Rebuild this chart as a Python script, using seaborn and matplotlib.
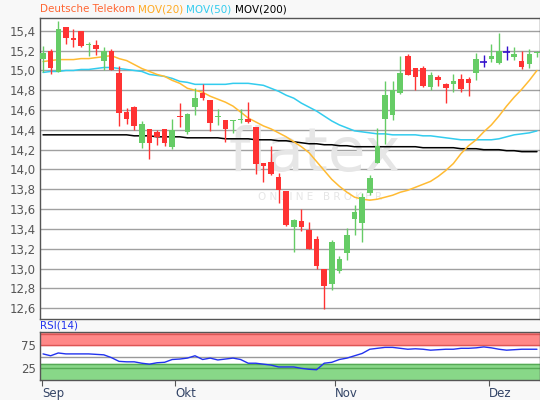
import numpy as np
import pandas as pd
import matplotlib
matplotlib.use("Agg")
import matplotlib.pyplot as plt
import seaborn as sns

opens = [15.12,15.20,14.98,15.44,15.33,15.40,15.26,15.26,15.10,15.20,14.97,14.58,14.63,14.27,14.41,14.38,14.41,14.23,14.54,14.38,
         14.63,14.77,14.70,14.53,14.50,14.49,14.50,14.51,14.43,14.07,14.08,13.92,13.78,13.42,13.48,13.39,13.30,13.00,12.84,12.97,
         13.16,13.50,13.46,13.76,14.07,14.51,14.55,14.77,15.15,15.03,15.02,14.83,14.93,14.86,14.86,14.91,14.91,14.97,15.09,15.12,
         15.08,15.19,15.14,15.10,15.07,15.175]
closes = [15.18,15.02,15.42,15.33,15.31,15.25,15.27,15.22,15.20,15.00,14.57,14.51,14.44,14.46,14.27,14.33,14.27,14.40,14.53,14.56,
          14.72,14.72,14.47,14.54,14.41,14.50,14.51,14.48,14.06,14.04,13.95,13.79,13.44,13.49,13.42,13.20,13.03,12.82,13.27,13.10,
          13.34,13.57,13.72,13.91,14.24,14.75,14.80,14.97,14.95,14.93,14.84,14.95,14.90,14.82,14.89,14.81,14.87,15.12,15.09,15.15,
          15.20,15.19,15.17,15.04,15.17,15.185]
highs = [15.25,15.22,15.50,15.44,15.42,15.40,15.29,15.31,15.24,15.22,15.05,14.62,14.64,14.49,14.41,14.40,14.41,14.51,14.67,14.57,
         14.82,14.86,14.70,14.61,14.50,14.50,14.61,14.68,14.43,14.07,14.24,13.96,13.78,13.50,13.60,13.47,13.33,13.00,13.29,13.13,
         13.41,13.64,13.76,13.94,14.42,14.89,14.89,15.15,15.17,15.03,15.05,14.98,14.95,14.87,14.96,14.96,14.93,15.18,15.16,15.27,
         15.38,15.25,15.24,15.20,15.22,15.20]
lows = [14.98,14.96,14.98,15.27,15.24,15.24,15.15,15.16,15.00,15.00,14.44,14.46,14.40,14.22,14.11,14.25,14.24,14.21,14.43,14.36,
        14.55,14.70,14.39,14.45,14.28,14.37,14.47,14.47,13.95,13.87,13.94,13.66,13.43,13.17,13.38,13.20,13.00,12.59,12.78,12.95,
        13.09,13.34,13.27,13.74,14.07,14.26,14.50,14.76,14.95,14.80,14.83,14.80,14.84,14.67,14.78,14.78,14.74,14.90,15.04,15.09,
        15.07,15.11,15.11,15.01,15.03,15.14]
mov20 = [15.09,15.10,15.11,15.11,15.11,15.12,15.12,15.13,15.14,15.15,15.12,15.10,15.06,15.02,14.99,14.96,14.94,14.90,14.87,14.82,
         14.80,14.78,14.74,14.71,14.68,14.64,14.58,14.52,14.48,14.44,14.41,14.37,14.33,14.28,14.23,14.17,14.08,13.99,13.90,13.83,
         13.77,13.72,13.70,13.69,13.70,13.72,13.74,13.77,13.79,13.82,13.85,13.88,13.93,13.99,14.06,14.16,14.24,14.30,14.38,14.45,
         14.54,14.64,14.73,14.81,14.90,15.00]
mov50 = [14.98,14.99,14.99,15.00,15.00,15.01,15.01,15.02,15.03,15.03,15.02,15.01,15.00,14.99,14.96,14.95,14.94,14.92,14.89,14.88,
         14.86,14.86,14.86,14.86,14.86,14.87,14.87,14.87,14.86,14.85,14.82,14.79,14.75,14.72,14.67,14.63,14.59,14.54,14.49,14.45,
         14.42,14.39,14.38,14.37,14.36,14.36,14.35,14.35,14.35,14.35,14.34,14.34,14.33,14.32,14.31,14.30,14.30,14.30,14.30,14.30,
         14.31,14.33,14.35,14.36,14.37,14.39]
mov200 = [14.35]*12 + [14.34,14.34,14.34,14.33,14.33,14.33,14.33,14.32,14.32,14.32,14.32,14.32,14.31,14.31,14.31,14.31,14.30,14.30,
          14.30,14.29,14.29,14.28,14.27,14.26,14.26,14.25,14.25,14.24,14.24,14.23,14.23,14.23,14.23,14.23,14.23,14.23,14.23,14.23,
          14.22,14.22,14.22,14.22,14.22,14.21,14.21,14.21,14.20,14.20,14.20,14.19,14.19,14.18,14.18,14.18]
rsi = [56,52,58,56,56,56,56,55,54,48,40,39,39,36,34,37,38,44,45,47,52,44,47,43,45,47,44,36,36,34,32,28,28,28,25,23,22,36,38,44,
       47,52,57,66,68,70,70,68,66,67,66,64,65,66,66,68,68,69,71,69,66,64,65,66,66,66]
month_labels = ["Sep", "Okt", "Nov", "Dez"]
month_pos = [-0.1, 17.4, 38.4, 58.7]
yticks = [12.6,12.8,13.0,13.2,13.4,13.6,13.8,14.0,14.2,14.4,14.6,14.8,15.0,15.2,15.4]

df = pd.DataFrame({"i": np.arange(len(opens)), "open": opens, "close": closes, "high": highs,
                   "low": lows, "mov20": mov20, "mov50": mov50, "mov200": mov200, "rsi": rsi})

sns.set_style("white")
plt.rcParams['font.family'] = ['DejaVu Sans']
fig = plt.figure(figsize=(5.4, 4.0), dpi=100, facecolor="#f8f8f8")
ax = fig.add_axes([40/540, 1-319/400, 500/540, 301/400])
ax2 = fig.add_axes([40/540, 1-380/400, 500/540, 48/400])

GREEN, RED, BLUE = "#66cc66", "#ff3333", "#3311cc"
for a in (ax, ax2):
    a.set_facecolor("white")
    for s in a.spines.values():
        s.set_color("#555555"); s.set_linewidth(1)

for y in yticks:
    ax.axhline(y, color="#a0a0a0", lw=1, zorder=0)

ax.text(0.55, 0.545, "flatex", transform=ax.transAxes, fontsize=44, color="#e6e6e6",
        ha="center", va="center", zorder=0.5)
ax.text(0.56, 0.405, "O N L I N E   B R O K E R", transform=ax.transAxes, fontsize=7.5,
        color="#e6e6e6", ha="center", va="center", zorder=0.5)

sns.lineplot(data=df, x="i", y="mov200", ax=ax, color="black", lw=1.1, zorder=2)
sns.lineplot(data=df, x="i", y="mov50", ax=ax, color="#33ccee", lw=1.1, zorder=2)
sns.lineplot(data=df, x="i", y="mov20", ax=ax, color="#ffbb33", lw=1.1, zorder=2)

for _, r in df.iterrows():
    if abs(r.close - r.open) < 0.005 and r.i not in (65, 6, 23, 25):
        c = BLUE
    else:
        c = GREEN if r.close >= r.open else RED
    ax.vlines(r.i, r.low, r.high, color=c, lw=1, zorder=3)
    lo, hi = min(r.open, r.close), max(r.open, r.close)
    h = max(hi - lo, 0.008)
    if c == BLUE:
        ax.hlines(r.close, r.i - 0.45, r.i + 0.45, color=c, lw=1.2, zorder=3)
    else:
        ax.bar(r.i, h, bottom=lo, width=0.72, color=c, edgecolor=c, lw=0, zorder=3)

ax.set_xlim(-0.4, 65.4)
ax.set_ylim(12.49, 15.53)
ax.set_yticks(yticks)
ax.set_yticklabels([f"{v:.1f}".replace(".", ",") for v in yticks], color="#555555", fontsize=8.5)
ax.set_xticks([])
ax.set_xlabel(""); ax.set_ylabel("")
ax.tick_params(axis="y", length=0, pad=3)

parts = [("Deutsche Telekom", "#ff6633"), ("MOV(20)", "#ffaa22"), ("MOV(50)", "#33ccee"), ("MOV(200)", "black")]
x = 40/540
for t, col in parts:
    txt = fig.text(x, 1-9/400, t, color=col, fontsize=7.5, va="center", ha="left")
    fig.canvas.draw()
    bb = txt.get_window_extent()
    x += (bb.width + 3) / 540

ax2.axhspan(75, 103, color="#ff8888", zorder=0)
ax2.axhspan(0, 34, color="#88d888", zorder=0)
for v, col in ((99, "#dd5555"), (75, "#dd5555"), (50, "#999999"), (34, "#55aa55"), (25, "#55aa55")):
    ax2.axhline(v, color=col, lw=1, zorder=1)
sns.lineplot(data=df, x="i", y="rsi", ax=ax2, color="#2233ee", lw=1, zorder=3)
ax2.set_xlim(-0.4, 65.4)
ax2.set_ylim(0, 103)
ax2.set_yticks([25, 75])
ax2.set_yticklabels(["25", "75"], color="#555555", fontsize=8.5)
ax2.set_xticks(month_pos)
ax2.set_xticklabels(month_labels, color="#334466", fontsize=8.5, ha="left")
ax2.tick_params(axis="x", length=4, color="#555555", direction="out", bottom=True, pad=1)
ax2.tick_params(axis="y", length=0, pad=3)
ax2.set_xlabel(""); ax2.set_ylabel("")
fig.text(40/540, 1-326/400, "RSI(14)", color="#2233ee", fontsize=7.5, va="center", ha="left")

fig.savefig("out.png", dpi=100, facecolor=fig.get_facecolor())
